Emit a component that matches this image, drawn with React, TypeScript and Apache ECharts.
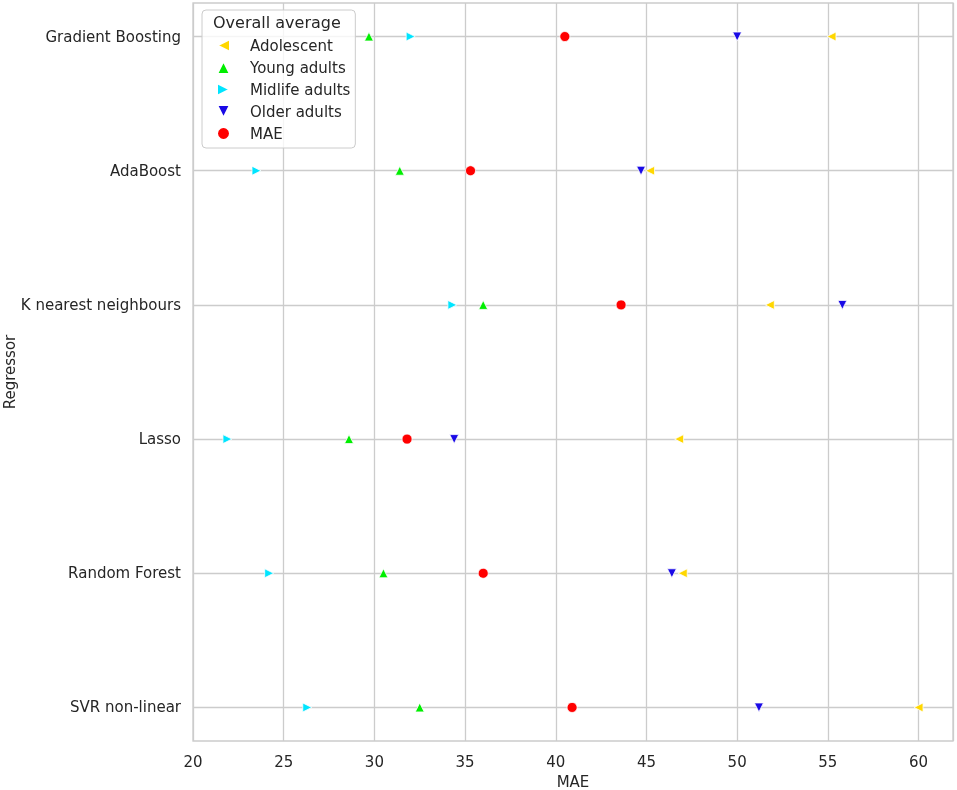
import React, { useEffect, useRef } from "react";
import * as echarts from "echarts";

const categories = [
  "Gradient Boosting",
  "AdaBoost",
  "K nearest neighbours",
  "Lasso",
  "Random Forest",
  "SVR non-linear",
];
const adolescent = [55.2, 45.2, 51.8, 46.8, 47.0, 60.0];
const youngAdults = [29.7, 31.4, 36.0, 28.6, 30.5, 32.5];
const midlifeAdults = [32.0, 23.5, 34.3, 21.9, 24.2, 26.3];
const olderAdults = [50.0, 44.7, 55.8, 34.4, 46.4, 51.2];
const mae = [40.5, 35.3, 43.6, 31.8, 36.0, 40.9];
const xTicks = [20, 25, 30, 35, 40, 45, 50, 55, 60];

const FONT = "DejaVu Sans";
const TXT = "#262626";
const GRID = "#cccccc";

const LEFT_TRI = "path://M0,5L10,0L10,10Z";
const UP_TRI = "path://M5,0L10,10L0,10Z";
const RIGHT_TRI = "path://M0,0L10,5L0,10Z";
const DOWN_TRI = "path://M0,0L10,0L5,10Z";

export default function App() {
  const ref = useRef<HTMLDivElement>(null);
  useEffect(() => {
    if (!ref.current) return;
    const chart = echarts.init(ref.current, null, { renderer: "svg" });
    const mk = (
      name: string,
      vals: number[],
      symbol: string,
      color: string,
      size: number
    ) => ({
      name,
      type: "scatter",
      data: vals.map((v, i) => [v, i]),
      symbol,
      symbolSize: size,
      symbolKeepAspect: true,
      itemStyle: { color, borderColor: "#ffffff", borderWidth: 0.8, opacity: 1 },
      emphasis: { disabled: true },
    });
    chart.setOption({
      animation: false,
      grid: {
        left: 193,
        top: 3,
        right: 4,
        bottom: 49,
        outerBoundsMode: "none",
        containLabel: false,
        show: true,
        borderColor: GRID,
        borderWidth: 1.3,
        backgroundColor: "#ffffff",
      },
      xAxis: {
        type: "value",
        min: 20,
        max: 61.9,
        interval: 5,
        name: "MAE",
        nameLocation: "middle",
        nameGap: 33,
        nameTextStyle: { fontFamily: FONT, fontSize: 15, color: TXT },
        axisLine: { show: false },
        axisTick: { show: false },
        axisLabel: {
          fontFamily: FONT,
          fontSize: 15,
          color: TXT,
          margin: 13,
          customValues: xTicks,
        },
        splitLine: { show: true, lineStyle: { color: GRID, width: 1.3 } },
      },
      yAxis: {
        type: "value",
        min: -0.25,
        max: 5.25,
        inverse: true,
        axisLine: { show: false },
        axisTick: { show: false, customValues: [0, 1, 2, 3, 4, 5] },
        axisLabel: {
          fontFamily: FONT,
          fontSize: 15,
          color: TXT,
          margin: 12,
          customValues: [0, 1, 2, 3, 4, 5],
          formatter: (v: number) => categories[Math.round(v)] ?? "",
        },
        splitLine: { show: true, lineStyle: { color: GRID, width: 1.3 } },
      },
      legend: {
        orient: "vertical",
        left: 202,
        top: 10,
        padding: [28, 5, 7, 14],
        itemGap: 7,
        itemWidth: 13,
        itemHeight: 13,
        backgroundColor: "rgba(255,255,255,0.8)",
        borderColor: GRID,
        borderWidth: 1,
        borderRadius: 4,
        selectedMode: false,
        textStyle: {
          fontFamily: FONT,
          fontSize: 15,
          color: TXT,
          padding: [0, 0, 0, 15],
        },
        data: [
          { name: "Adolescent", icon: LEFT_TRI },
          { name: "Young adults", icon: UP_TRI },
          { name: "Midlife adults", icon: RIGHT_TRI },
          { name: "Older adults", icon: DOWN_TRI },
          { name: "MAE", icon: "circle" },
        ],
      },
      graphic: [
        {
          type: "text",
          left: 213,
          top: 14,
          z: 100,
          style: {
            text: "Overall average",
            fontFamily: FONT,
            fontSize: 16,
            fill: TXT,
          },
        },
        {
          type: "text",
          x: 10,
          y: 372,
          rotation: Math.PI / 2,
          style: {
            text: "Regressor",
            fontFamily: FONT,
            fontSize: 15,
            fill: TXT,
            align: "center",
            verticalAlign: "middle",
          },
        },
      ],
      series: [
        mk("Adolescent", adolescent, LEFT_TRI, "#ffd700", 9),
        mk("Young adults", youngAdults, UP_TRI, "#00ee00", 9),
        mk("Midlife adults", midlifeAdults, RIGHT_TRI, "#00e5ff", 9),
        mk("Older adults", olderAdults, DOWN_TRI, "#1a0ae6", 9),
        mk("MAE", mae, "circle", "#ff0000", 10),
      ],
    });
    return () => chart.dispose();
  }, []);
  return (
    <div
      ref={ref}
      style={{ position: "fixed", left: 0, top: 0, width: 957, height: 790 }}
    />
  );
}
